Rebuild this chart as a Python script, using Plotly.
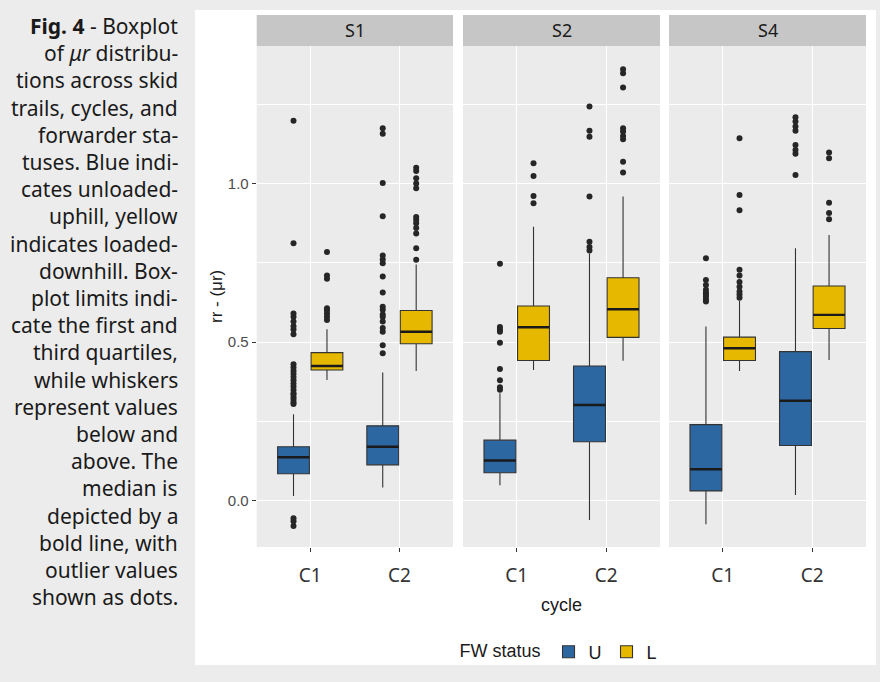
import plotly.graph_objects as go

# ---------------- data ----------------
skid_trails = ["S1", "S2", "S4"]
cycles = ["C1", "C2"]
status_names = ["U", "L"]

# order: S1C1, S1C2, S2C1, S2C2, S4C1, S4C2
u_q1 = [0.085, 0.113, 0.088, 0.186, 0.031, 0.174]
u_med = [0.137, 0.170, 0.127, 0.302, 0.099, 0.315]
u_q3 = [0.170, 0.236, 0.191, 0.425, 0.240, 0.470]
u_lo = [0.015, 0.042, 0.049, -0.061, -0.074, 0.018]
u_hi = [0.273, 0.404, 0.339, 0.780, 0.549, 0.796]
u_out = [
    [-0.080, -0.065, -0.055, 0.305, 0.310, 0.318, 0.326, 0.335, 0.340, 0.350, 0.360,
     0.370, 0.380, 0.390, 0.400, 0.410, 0.420, 0.430, 0.525, 0.540, 0.550, 0.565,
     0.580, 0.590, 0.812, 1.198],
    [0.465, 0.490, 0.533, 0.545, 0.565, 0.580, 0.587, 0.602, 0.612, 0.657, 0.707,
     0.749, 0.761, 0.773, 0.897, 1.002, 1.157, 1.175],
    [0.350, 0.358, 0.380, 0.415, 0.498, 0.533, 0.540, 0.548, 0.747],
    [0.789, 0.800, 0.817, 0.959, 1.148, 1.167, 1.243],
    [0.628, 0.635, 0.643, 0.650, 0.657, 0.665, 0.680, 0.696, 0.765],
    [1.027, 1.094, 1.106, 1.122, 1.167, 1.180, 1.196, 1.209],
]

l_q1 = [0.412, 0.495, 0.442, 0.515, 0.442, 0.543]
l_med = [0.425, 0.533, 0.547, 0.604, 0.481, 0.586]
l_q3 = [0.467, 0.600, 0.614, 0.703, 0.516, 0.677]
l_lo = [0.381, 0.409, 0.412, 0.441, 0.409, 0.444]
l_hi = [0.541, 0.745, 0.864, 0.959, 0.630, 0.838]
l_out = [
    [0.570, 0.580, 0.590, 0.600, 0.607, 0.700, 0.710, 0.784],
    [0.760, 0.796, 0.843, 0.860, 0.875, 0.885, 0.895, 0.985, 1.000, 1.017, 1.040, 1.050],
    [0.938, 0.961, 1.024, 1.064],
    [1.035, 1.069, 1.140, 1.150, 1.164, 1.175, 1.303, 1.348, 1.361],
    [0.640, 0.650, 0.660, 0.675, 0.690, 0.710, 0.728, 0.916, 0.964, 1.143],
    [0.888, 0.907, 0.940, 1.080, 1.098],
]

y_ticks = [0.0, 0.5, 1.0]
y_ticktext = ["0.0", "0.5", "1.0"]

caption_lines = [
    "<b>Fig. 4</b> - Boxplot",
    "of <i>μr</i> distribu-",
    "tions across skid",
    "trails, cycles, and",
    "forwarder sta-",
    "tuses. Blue indi-",
    "cates unloaded-",
    "uphill, yellow",
    "indicates loaded-",
    "downhill. Box-",
    "plot limits indi-",
    "cate the first and",
    "third quartiles,",
    "while whiskers",
    "represent values",
    "below and",
    "above. The",
    "median is",
    "depicted by a",
    "bold line, with",
    "outlier values",
    "shown as dots.",
]

# ---------------- style ----------------
W, H = 880, 682
BLUE = "#2d67a2"
YELLOW = "#e7b800"
EDGE = "#333333"
PAGE = "#ececec"
PANEL = "#ebebeb"
STRIP = "#c6c6c6"
ARIAL = "Liberation Sans, Arial"

x_domains = [[256.7 / W, 453 / W], [463 / W, 660 / W], [669 / W, 866 / W]]
y_domain = [1 - 547 / H, 1 - 46 / H]
strip_y = [1 - 46 / H, 1 - 15 / H]

series = [
    ("U", BLUE, u_q1, u_med, u_q3, u_lo, u_hi, u_out),
    ("L", YELLOW, l_q1, l_med, l_q3, l_lo, l_hi, l_out),
]

fig = go.Figure()

for p, trail in enumerate(skid_trails):
    xa = "x" if p == 0 else f"x{p+1}"
    ya = "y" if p == 0 else f"y{p+1}"
    sl = slice(2 * p, 2 * p + 2)
    for name, col, q1, med, q3, lo, hi, out in series:
        fig.add_trace(go.Box(
            x=cycles, y=out[sl], q1=q1[sl], median=med[sl], q3=q3[sl],
            lowerfence=lo[sl], upperfence=hi[sl],
            name=name, legendgroup=name, showlegend=(p == 0),
            offsetgroup=name, boxpoints="all", jitter=0, pointpos=0,
            marker=dict(color="#262626", size=6),
            fillcolor=col, line=dict(color=EDGE, width=1.1),
            whiskerwidth=0, hoverinfo="skip",
            xaxis=xa, yaxis=ya,
        ))
    # thicker median lines (ggplot style)
    for name, col, q1, med, q3, lo, hi, out in series:
        fig.add_trace(go.Box(
            x=cycles, q1=med[sl], median=med[sl], q3=med[sl],
            lowerfence=med[sl], upperfence=med[sl],
            name=name, legendgroup=name, showlegend=False,
            offsetgroup=name, boxpoints=False,
            fillcolor="rgba(0,0,0,0)", line=dict(color="#1a1a1a", width=2.4),
            whiskerwidth=0, hoverinfo="skip",
            xaxis=xa, yaxis=ya,
        ))

layout = dict(
    width=W, height=H,
    margin=dict(l=0, r=0, t=0, b=0),
    paper_bgcolor="white", plot_bgcolor=PANEL,
    boxmode="group", boxgap=0.25, boxgroupgap=0.05,
    showlegend=True,
    legend=dict(
        orientation="h", x=560 / W, xanchor="center", y=1 - 652 / H, yanchor="middle",
        title=dict(text="FW status", side="left", font=dict(size=18, color="#1a1a1a", family=ARIAL)),
        font=dict(size=18, color="#1a1a1a", family=ARIAL),
        bgcolor="rgba(0,0,0,0)", itemclick=False, itemwidth=30, tracegroupgap=0,
    ),
)

for p in range(3):
    xk = "xaxis" if p == 0 else f"xaxis{p+1}"
    yk = "yaxis" if p == 0 else f"yaxis{p+1}"
    layout[xk] = dict(
        domain=x_domains[p], anchor="y" if p == 0 else f"y{p+1}",
        type="category", categoryorder="array", categoryarray=cycles,
        range=[-0.6, 1.6], showgrid=True, gridcolor="white", gridwidth=1.1,
        zeroline=False, showline=False,
        ticks="outside", ticklen=4, tickwidth=1, tickcolor=EDGE,
        tickfont=dict(size=19, color="#333333", family="Noto Sans"),
        ticklabelstandoff=7, fixedrange=True,
    )
    layout[yk] = dict(
        domain=y_domain, anchor="x" if p == 0 else f"x{p+1}",
        range=[-0.146, 1.434], tickvals=y_ticks, ticktext=y_ticktext,
        showgrid=True, gridcolor="white", gridwidth=1.1, zeroline=False, showline=False,
        minor=dict(dtick=0.25, tick0=0, showgrid=True, gridcolor="white", gridwidth=0.5),
        ticks="outside" if p == 0 else "", ticklen=4, tickwidth=1, tickcolor=EDGE,
        showticklabels=(p == 0),
        tickfont=dict(size=15, color="#4d4d4d", family=ARIAL),
        fixedrange=True,
    )
    if p > 0:
        layout[yk]["matches"] = "y"

fig.update_layout(**layout)

# page background around the white chart card
card = (195, 10, 876, 665)
for x0, y0, x1, y1 in [(0, 0, card[0], H), (0, 0, W, card[1]),
                       (card[2], 0, W, H), (0, card[3], W, H)]:
    fig.add_shape(type="rect", xref="paper", yref="paper",
                  x0=x0 / W, x1=x1 / W, y0=1 - y1 / H, y1=1 - y0 / H,
                  fillcolor=PAGE, line_width=0, layer="below")

# facet strips
for p, trail in enumerate(skid_trails):
    xa = "x" if p == 0 else f"x{p+1}"
    fig.add_shape(type="rect", xref=f"{xa} domain", yref="paper",
                  x0=0, x1=1, y0=strip_y[0], y1=strip_y[1],
                  fillcolor=STRIP, line_width=0, layer="below")
    fig.add_annotation(text=trail, xref=f"{xa} domain", yref="paper",
                       x=0.5, y=(strip_y[0] + strip_y[1]) / 2, showarrow=False,
                       font=dict(size=18, color="#1a1a1a", family="Noto Sans"),
                       xanchor="center", yanchor="middle")

# axis titles
fig.add_annotation(text="rr - (μr)", xref="paper", yref="paper", x=216 / W, y=1 - 297 / H,
                   textangle=-90, showarrow=False, xanchor="center", yanchor="middle",
                   font=dict(size=17, color="#1a1a1a", family=ARIAL))
fig.add_annotation(text="cycle", xref="paper", yref="paper", x=561 / W, y=1 - 605 / H,
                   showarrow=False, xanchor="center", yanchor="middle",
                   font=dict(size=18, color="#1a1a1a", family=ARIAL))

# caption
for i, line in enumerate(caption_lines):
    fig.add_annotation(text=line, xref="paper", yref="paper", x=180 / W,
                       y=1 - (26 + 27.2 * i) / H, showarrow=False,
                       xanchor="right", yanchor="middle", align="right",
                       font=dict(size=21, color="#1a1a1a", family="Noto Sans"))

fig.write_html("out.html", config={"displayModeBar": False},
               post_script="document.body.style.margin='0';")
